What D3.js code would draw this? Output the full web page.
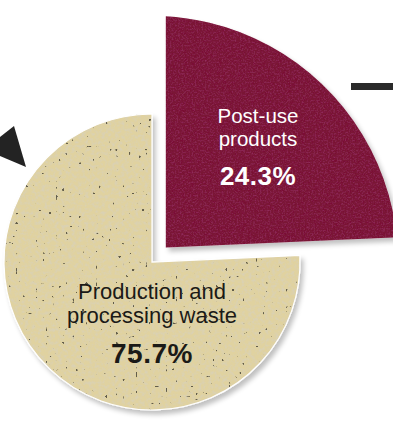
<!DOCTYPE html>
<html>
<head>
<meta charset="utf-8">
<script src="https://cdn.jsdelivr.net/npm/d3@7"></script>
<style>
  html, body { margin: 0; padding: 0; background: #ffffff; }
  svg { display: block; }
  text { font-family: "Liberation Sans", Arial, Helvetica, sans-serif; }
</style>
</head>
<body>
<svg id="chart" width="393" height="421"></svg>
<script>
// Sources of the material, as shares of the total (%)
const categories = ["Post-use products", "Production and processing waste"];
const labelLines = [["Post-use", "products"], ["Production and", "processing waste"]];
const shares = [24.3, 75.7];

const W = 393, H = 421;
const svg = d3.select("#chart");
const defs = svg.append("defs");

// soft grey shadow under both slices
const shadow = defs.append("filter").attr("id", "shadow")
  .attr("x", "-10%").attr("y", "-10%").attr("width", "130%").attr("height", "130%");
shadow.append("feGaussianBlur").attr("in", "SourceAlpha").attr("stdDeviation", 2.5).attr("result", "b");
shadow.append("feOffset").attr("in", "b").attr("dx", 3).attr("dy", 4).attr("result", "o");
shadow.append("feComponentTransfer").attr("in", "o").attr("result", "oa")
  .append("feFuncA").attr("type", "linear").attr("slope", 0.25);
const sm = shadow.append("feMerge");
sm.append("feMergeNode").attr("in", "oa");
sm.append("feMergeNode").attr("in", "SourceGraphic");

// sandy surface for the large slice: soft darker blotches plus sparse dark specks
const sand = defs.append("filter").attr("id", "sand")
  .attr("x", "0%").attr("y", "0%").attr("width", "100%").attr("height", "100%");
sand.append("feTurbulence").attr("type", "fractalNoise").attr("baseFrequency", 0.3)
  .attr("numOctaves", 2).attr("seed", 7).attr("result", "mott");
sand.append("feColorMatrix").attr("in", "mott").attr("type", "matrix")
  .attr("values", "0 0 0 0 0.70  0 0 0 0 0.64  0 0 0 0 0.45  3.0 0 0 0 -1.3").attr("result", "mottA");
sand.append("feComposite").attr("in", "mottA").attr("in2", "SourceGraphic").attr("operator", "in").attr("result", "mottC");
sand.append("feTurbulence").attr("type", "fractalNoise").attr("baseFrequency", 0.3)
  .attr("numOctaves", 1).attr("seed", 3).attr("result", "n");
sand.append("feColorMatrix").attr("in", "n").attr("type", "matrix")
  .attr("values", "0 0 0 0 0.12  0 0 0 0 0.11  0 0 0 0 0.07  -30 0 0 0 8.6").attr("result", "specks");
sand.append("feComposite").attr("in", "specks").attr("in2", "SourceGraphic").attr("operator", "in").attr("result", "specksC");
const sandMerge = sand.append("feMerge");
sandMerge.append("feMergeNode").attr("in", "SourceGraphic");
sandMerge.append("feMergeNode").attr("in", "mottC");
sandMerge.append("feMergeNode").attr("in", "specksC");

// faint grain for the dark slice
const grain = defs.append("filter").attr("id", "grain")
  .attr("x", "0%").attr("y", "0%").attr("width", "100%").attr("height", "100%");
grain.append("feTurbulence").attr("type", "fractalNoise").attr("baseFrequency", 0.6)
  .attr("numOctaves", 2).attr("seed", 11).attr("result", "g");
grain.append("feColorMatrix").attr("in", "g").attr("type", "matrix")
  .attr("values", "0 0 0 0 0.30  0 0 0 0 0.03  0 0 0 0 0.12  -2 0 0 0 1.1").attr("result", "gA");
grain.append("feComposite").attr("in", "gA").attr("in2", "SourceGraphic").attr("operator", "in").attr("result", "gC");
const gm = grain.append("feMerge");
gm.append("feMergeNode").attr("in", "SourceGraphic");
gm.append("feMergeNode").attr("in", "gC");

// geometry
const cx = 152, cy = 262;
const rSmall = 148;      // radius of the large-share slice
const rBig = 246;        // radius of the pulled-out slice
const explode = 20;      // distance the small-share slice is pulled out

const pie = d3.pie().sort(null).value(d => d)(shares);
const colors = ["#7a1434", "#e0d2a0"];
const textColors = ["#ffffff", "#1b1a17"];

const g = svg.append("g");

// Post-use slice: big disk sector, clipped to the wedge whose corner is pulled out
const p0 = pie[0];
const mid0 = (p0.startAngle + p0.endAngle) / 2;
const ox = explode * Math.sin(mid0), oy = -explode * Math.cos(mid0);
defs.append("clipPath").attr("id", "wedge")
  .append("path")
  .attr("transform", `translate(${cx + ox},${cy + oy})`)
  .attr("d", d3.arc().innerRadius(0).outerRadius(600)(p0));

const post = g.append("g").attr("filter", "url(#shadow)");
post.append("g").attr("clip-path", "url(#wedge)")
  .append("path")
  .attr("transform", `translate(${cx},${cy})`)
  .attr("d", d3.arc().innerRadius(0).outerRadius(rBig)({startAngle: p0.startAngle - 0.3, endAngle: p0.endAngle + 0.3}))
  .attr("fill", colors[0])
  .attr("filter", "url(#grain)");

// Production slice
const p1 = pie[1];
const prod = g.append("g").attr("filter", "url(#shadow)");
prod.append("path")
  .attr("transform", `translate(${cx},${cy})`)
  .attr("d", d3.arc().innerRadius(0).outerRadius(rSmall)(p1))
  .attr("fill", colors[1])
  .attr("filter", "url(#sand)");
prod.append("path")
  .attr("transform", `translate(${cx},${cy})`)
  .attr("d", d3.arc().innerRadius(0).outerRadius(rSmall)(p1))
  .attr("fill", "none")
  .attr("stroke", "#ffffff")
  .attr("stroke-width", 1.2);

// labels
const fmt = v => d3.format(".1f")(v) + "%";
const labelPos = [
  { x: cx + 106, lines: [cy - 139, cy - 116], value: cy - 77, size: 20.5, vsize: 26 },
  { x: cx,       lines: [cy + 37, cy + 61],   value: cy + 101, size: 22, vsize: 28 }
];
pie.forEach((d, i) => {
  const lp = labelPos[i];
  labelLines[i].forEach((line, j) => {
    g.append("text")
      .attr("x", lp.x).attr("y", lp.lines[j])
      .attr("text-anchor", "middle")
      .attr("font-size", lp.size)
      .attr("fill", textColors[i])
      .text(line);
  });
  g.append("text")
    .attr("x", lp.x).attr("y", lp.value)
    .attr("text-anchor", "middle")
    .attr("font-size", lp.vsize)
    .attr("font-weight", "900")
    .attr("letter-spacing", 0.5)
    .attr("fill", textColors[i])
    .text(fmt(shares[i]));
});

// connector marks at the edges
svg.append("path")
  .attr("d", d3.line()([[0, 137], [14, 126], [26, 167], [0, 156]]) + "Z")
  .attr("fill", "#232323");
svg.append("line")
  .attr("x1", 351).attr("x2", W).attr("y1", 86.5).attr("y2", 86.5)
  .attr("stroke", "#2a2a2a").attr("stroke-width", 7);
</script>
</body>
</html>
